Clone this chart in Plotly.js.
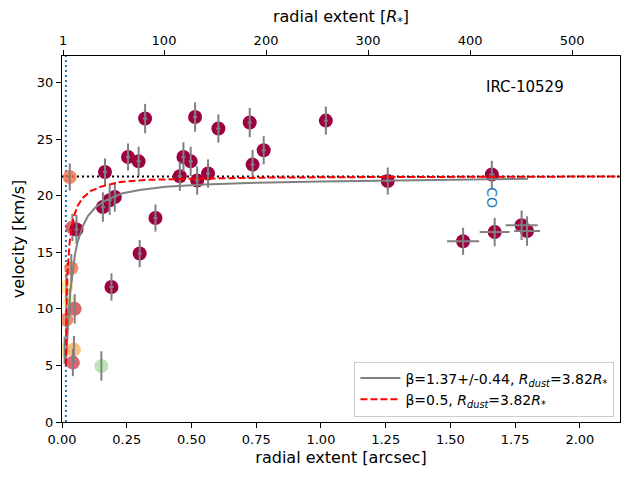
<!DOCTYPE html>
<html>
<head>
<meta charset="utf-8">
<script src="https://cdn.plot.ly/plotly-3.0.1.min.js"></script>
<style>
  html, body { margin: 0; padding: 0; background: #fff; }
  #plot { width: 640px; height: 480px; }
</style>
</head>
<body>
<div id="plot"></div>
<script>
// measured velocities, dark (main) points
var mainX  = [1.660, 1.549, 1.671, 1.775, 1.796, 1.258, 1.019, 0.779, 0.725, 0.736, 0.604, 0.564, 0.514, 0.522,
              0.497, 0.469, 0.455, 0.361, 0.321, 0.300, 0.296, 0.255, 0.204, 0.184, 0.191, 0.158, 0.166, 0.056];
var mainV  = [21.87, 15.97, 16.79, 17.39, 16.88, 21.30, 26.64, 24.02, 26.47, 22.75, 25.94, 21.96, 26.96, 21.34,
              23.04, 23.42, 21.72, 18.03, 26.82, 14.89, 23.04, 23.42, 19.89, 19.60, 11.93, 19.00, 22.10, 17.01];
var mainEX = [0.010, 0.062, 0.058, 0.062, 0.050, 0.010, 0.008, 0.008, 0.008, 0.008, 0.008, 0.008, 0.008, 0.008,
              0.008, 0.008, 0.008, 0.008, 0.008, 0.008, 0.008, 0.008, 0.008, 0.008, 0.008, 0.008, 0.008, 0.008];
var mainEV = [1.22, 1.20, 1.25, 1.30, 1.30, 1.20, 1.25, 1.25, 1.30, 1.30, 1.25, 1.25, 1.30, 1.25,
              1.30, 1.30, 1.30, 1.20, 1.30, 1.20, 1.30, 1.20, 1.30, 1.30, 1.20, 1.30, 1.20, 1.30];

// inner points, coloured by group
var innerX   = [0.040, 0.030, 0.036, 0.017, 0.030, 0.049, 0.017, 0.010, 0.046, 0.042, 0.152];
var innerV   = [17.20, 21.66, 13.60, 11.93, 10.60, 10.00, 9.05, 6.34, 6.40, 5.25, 4.95];
var innerEV  = [1.20, 1.20, 1.25, 1.20, 1.20, 1.30, 1.20, 1.20, 1.20, 1.20, 1.30];
var innerGrp = [0, 1, 1, 3, 4, 0, 1, 3, 2, 0, 5];

// beta-law fits
var fitX  = [0.015, 0.018, 0.022, 0.027, 0.033, 0.041, 0.050, 0.060, 0.080, 0.100, 0.130, 0.170, 0.230,
             0.300, 0.400, 0.550, 0.750, 1.000, 1.300, 1.600, 1.800];
var fitV  = [5.0, 6.4, 8.2, 10.0, 11.7, 13.3, 14.8, 15.9, 17.3, 18.2, 19.0, 19.6, 20.2,
             20.5, 20.8, 21.0, 21.15, 21.25, 21.35, 21.45, 21.5];
var fit2X = [0.0151, 0.016, 0.017, 0.019, 0.022, 0.026, 0.030, 0.035, 0.045, 0.060, 0.080, 0.110, 0.150,
             0.220, 0.320, 0.500, 0.800, 1.200, 1.700, 2.160];
var fit2V = [5.0, 8.5, 10.2, 12.0, 13.5, 15.0, 16.0, 16.9, 18.1, 19.1, 19.8, 20.4, 20.8,
             21.2, 21.4, 21.5, 21.6, 21.65, 21.7, 21.7];

// terminal velocity and dust condensation radius
var termX = [0, 2.16];
var termV = [21.7, 21.7];
var dustX = [0.0151, 0.0151];
var dustV = [0, 32.35];

var palette = ['#d53e4f', '#f46d43', '#fdae61', '#fee08b', '#e6f598', '#abdda4'];
var innerCol = innerGrp.map(function(g) { return palette[g]; });

var barStyle = { color: 'gray', thickness: 2, width: 0 };

var traces = [
    { x: termX, y: termV, mode: 'lines', line: { color: 'black', width: 2, dash: '2px,3px' },
      showlegend: false, hoverinfo: 'skip' },
    { x: dustX, y: dustV, mode: 'lines', line: { color: '#1f77b4', width: 2, dash: '2px,3px' },
      showlegend: false, hoverinfo: 'skip' },
    { x: innerX, y: innerV, mode: 'markers',
      marker: { color: innerCol, size: 14, opacity: 0.8 }, showlegend: false },
    { x: innerX, y: innerV, mode: 'markers', marker: { size: 1, color: 'rgba(0,0,0,0)' },
      error_y: Object.assign({ type: 'data', array: innerEV }, barStyle), showlegend: false },
    { x: mainX, y: mainV, mode: 'markers',
      marker: { color: '#9e0142', size: 14 }, showlegend: false },
    { x: mainX, y: mainV, mode: 'markers', marker: { size: 1, color: 'rgba(0,0,0,0)' },
      error_x: Object.assign({ type: 'data', array: mainEX }, barStyle),
      error_y: Object.assign({ type: 'data', array: mainEV }, barStyle), showlegend: false },
    { x: fitX, y: fitV, mode: 'lines', line: { color: 'gray', width: 2 },
      name: '\u03b2=1.37+/-0.44, <i>R</i><sub><i>dust</i></sub>=3.82<i>R</i><sub>*</sub>' },
    { x: fit2X, y: fit2V, mode: 'lines', line: { color: 'red', width: 2, dash: '7px,3px' },
      name: '\u03b2=0.5, <i>R</i><sub><i>dust</i></sub>=3.82<i>R</i><sub>*</sub>' },
    // dummy trace so the top axis is drawn
    { x: [1], y: [null], xaxis: 'x2', mode: 'markers', showlegend: false, hoverinfo: 'skip' }
];

var font = { family: 'DejaVu Sans, sans-serif', size: 13, color: 'black' };

var layout = {
    width: 640, height: 480,
    margin: { l: 62, r: 20, t: 56, b: 58 },
    paper_bgcolor: 'white', plot_bgcolor: 'white',
    font: font,
    showlegend: true,
    legend: { x: 0.99, xanchor: 'right', y: 0.015, yanchor: 'bottom',
              bgcolor: 'white', bordercolor: '#cccccc', borderwidth: 1, itemwidth: 40,
              font: { family: 'DejaVu Sans, sans-serif', size: 14 }, tracegroupgap: 2 },
    xaxis: { range: [0, 2.155], tickvals: [0, 0.25, 0.5, 0.75, 1, 1.25, 1.5, 1.75, 2],
             ticktext: ['0.00', '0.25', '0.50', '0.75', '1.00', '1.25', '1.50', '1.75', '2.00'],
             showgrid: false, zeroline: false, showline: true, linecolor: 'black', linewidth: 1,
             mirror: true, ticks: 'outside', ticklen: 5, tickcolor: 'black',
             title: { text: 'radial extent [arcsec]', standoff: 6 } },
    xaxis2: { overlaying: 'x', side: 'top', range: [0, 547], tickvals: [1, 100, 200, 300, 400, 500],
              showgrid: false, zeroline: false, showline: false, ticks: 'outside', ticklen: 5,
              tickcolor: 'black',
              title: { text: 'radial extent [<i>R</i><sub>*</sub>]', standoff: 6 } },
    yaxis: { range: [0, 32.35], tickvals: [0, 5, 10, 15, 20, 25, 30],
             showgrid: false, zeroline: false, showline: true, linecolor: 'black', linewidth: 1,
             mirror: true, ticks: 'outside', ticklen: 5, tickcolor: 'black',
             title: { text: 'velocity [km/s]', standoff: 8 } },
    annotations: [
        { x: 1.787, y: 29.6, xref: 'x', yref: 'y', text: 'IRC-10529', showarrow: false,
          font: { family: 'DejaVu Sans, sans-serif', size: 15, color: 'black' } },
        { x: 1.66, y: 19.8, xref: 'x', yref: 'y', text: 'CO', showarrow: false, textangle: 90,
          font: { family: 'DejaVu Sans, sans-serif', size: 14, color: '#1f77b4' } }
    ]
};

Plotly.newPlot('plot', traces, layout, { staticPlot: true });
</script>
</body>
</html>
